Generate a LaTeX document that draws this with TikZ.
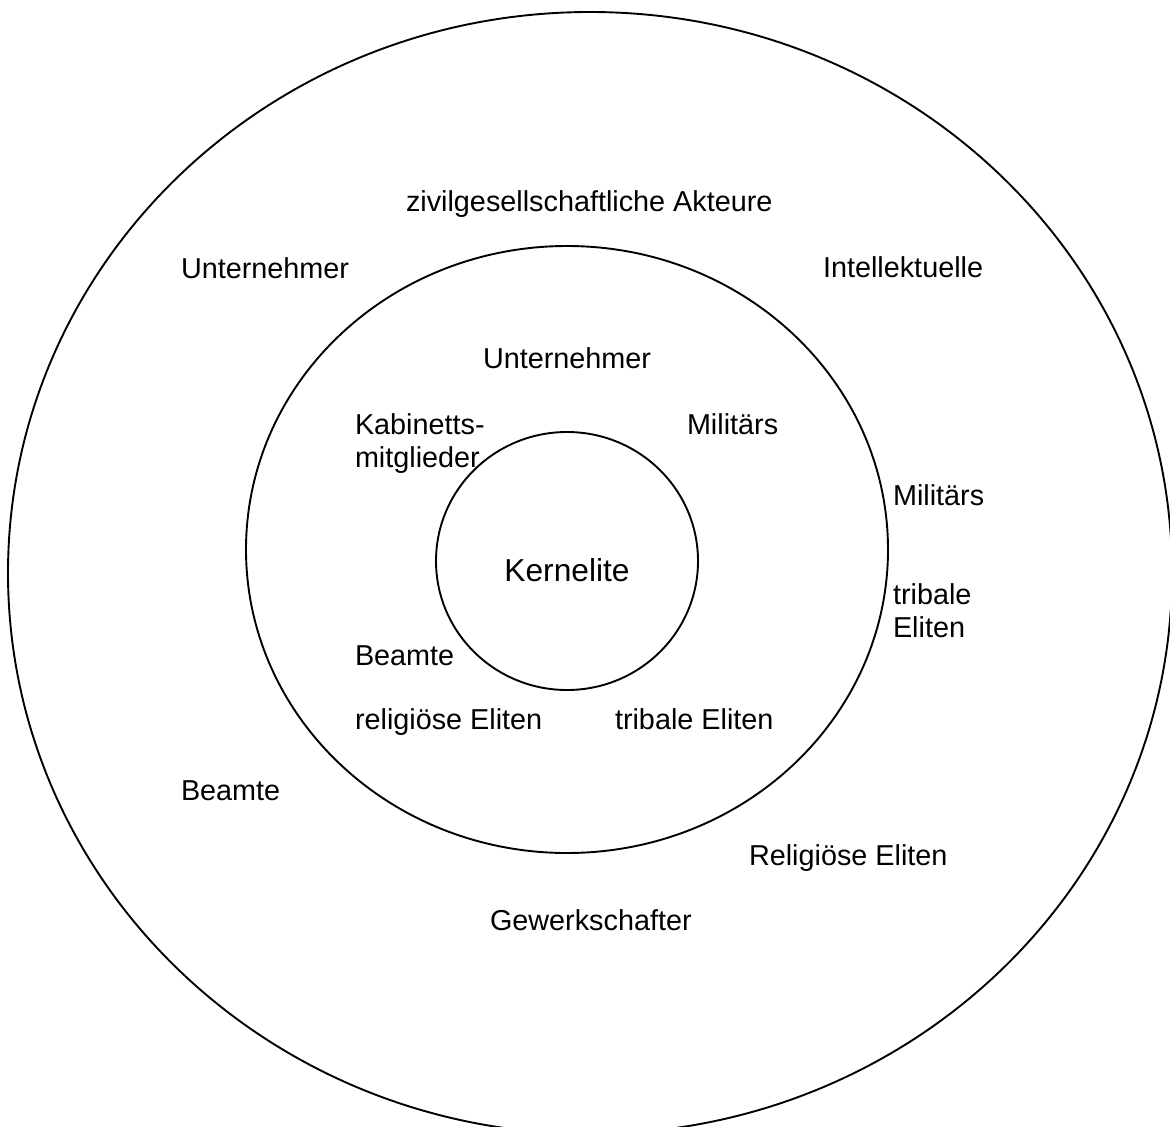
\documentclass[tikz,border=0pt]{standalone}
\usepackage{fontspec}
\setmainfont{Liberation Sans}
\begin{document}
\begin{tikzpicture}[x=1pt,y=-1pt,
  ring/.style={line width=1.9pt,black},
  lbl/.style={anchor=base west,inner sep=0pt,outer sep=0pt,font=\fontsize{28.8}{33}\selectfont,align=left},
  core/.style={anchor=base,inner sep=0pt,font=\fontsize{31.7}{36}\selectfont}]
\useasboundingbox (0,0) rectangle (1170,1127);
\begin{scope}
\clip (0,0) rectangle (1170,1127);
\draw[ring] (590,573) ellipse [x radius=582pt, y radius=561pt];
\end{scope}
\draw[ring] (567,549.5) ellipse [x radius=321pt, y radius=303.5pt];
\draw[ring] (567,561) ellipse [x radius=131pt, y radius=129pt];
% outer ring labels
\node[lbl] (zivil) at (406,211) {zivilgesellschaftliche Akteure};
\node[lbl] (untO) at (181,278) {Unternehmer};
\node[lbl] (intel) at (823,277) {Intellektuelle};
\node[lbl] (milO) at (893,505) {Militärs};
\node[lbl] (tribO) at (893,637) {tribale\\Eliten};
\node[lbl] (beaO) at (181,800) {Beamte};
\node[lbl] (relO) at (749,865) {Religiöse Eliten};
\node[lbl] (gew) at (490,930) {Gewerkschafter};
% middle ring labels
\node[lbl] (untM) at (483,368) {Unternehmer};
\node[lbl] (kab) at (355,467) {Kabinetts-\\mitglieder};
\node[lbl] (milM) at (687,434) {Militärs};
\node[lbl] (beaM) at (355,665) {Beamte};
\node[lbl] (relM) at (355,729) {religiöse Eliten};
\node[lbl] (tribM) at (615,729) {tribale Eliten};
% core
\node[core] (kern) at (567,581) {Kernelite};
\end{tikzpicture}
\end{document}
